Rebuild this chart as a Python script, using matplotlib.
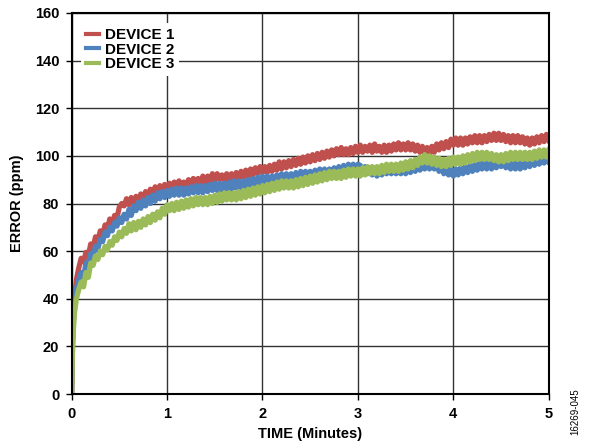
import numpy as np
import matplotlib
matplotlib.use("Agg")
import matplotlib.pyplot as plt

plt.rcParams['font.family'] = ['Liberation Sans', 'DejaVu Sans']

# time samples (minutes)
time_early = [0, 0.005, 0.01, 0.02, 0.03, 0.05, 0.075]
time_main = list(np.round(np.arange(0.1, 5.0001, 0.025), 3))
time = time_early + time_main

device1 = [0, 12, 22, 33, 40, 48, 53,
    57, 55.5, 59.5, 58, 63, 61.5, 66, 64, 68.5, 66.5, 71, 69.5, 73.5, 71, 75, 74, 78.5,
    80, 79, 82, 79.5, 82.5, 80, 83, 80.5, 84, 81.5, 85, 82.5, 86, 83.5, 87, 84.5, 87.5, 84.5, 88, 85.5,
    88.5, 86, 89, 86.5, 89.5, 87, 89, 86.5, 90, 87, 90.5, 87.5, 90.5, 88, 91.5, 88.5, 91.5, 89, 92.5, 89.5,
    92.5, 90, 92, 89.5, 92.5, 90, 92.5, 89.5, 93, 90.5, 93.5, 91, 94, 91, 94.5, 92, 95, 92.5, 95.5, 93,
    95.5, 93, 96, 93.5, 96.5, 94, 97.5, 94.5, 97.5, 95, 98, 95.5, 98.5, 96, 99, 96.5, 99.5, 97, 100, 97.5,
    100.5, 98, 101, 98.5, 101.5, 99, 102, 99.5, 102.5, 100, 103, 100.5, 103.5, 100.5, 103, 100.5, 103.5, 101, 104, 101.5,
    104.5, 101.5, 104, 102, 104.5, 101.5, 105, 102, 104, 101.5, 104.5, 101.5, 104.5, 102, 105, 102.5, 105.5, 102.5, 105, 102.5,
    105.5, 102.5, 105, 102, 104.5, 101.5, 104, 101, 103.5, 100.5, 104, 101.5, 105, 102.5, 105.5, 103, 106, 103.5, 107, 104.5,
    107.5, 104.5, 107.5, 104.5, 107.5, 105, 108, 105.5, 108.5, 105.5, 108.5, 105.5, 108.5, 106, 109, 106.5, 109.5, 106.5, 109.5, 106.5,
    109, 106, 108.5, 105.5, 108.5, 105.5, 108.5, 105.5, 108, 105, 107.5, 104.5, 107.5, 105, 108, 105.5, 108.5, 106, 109, 106.5]

device2 = [0, 14, 24, 32, 38, 44, 48,
    51, 49, 55, 54.5, 59, 58, 62, 61, 65, 64, 68, 66.5, 70, 68.5, 72, 70.5, 74,
    72, 75.5, 73.5, 77.5, 75, 79, 77, 80.5, 78, 81.5, 79, 82.5, 80, 83.5, 81, 84.5, 82, 85, 82.5, 85.5,
    83, 86, 83.5, 86.5, 83.5, 86.5, 83.5, 86.5, 84, 87, 84.5, 87.5, 84.5, 87.5, 84.5, 87.5, 85, 88, 85.5, 88.5,
    85.5, 88.5, 85.5, 88.5, 86, 89, 86, 89.5, 86.5, 89.5, 86.5, 89.5, 87, 90, 87, 90.5, 87.5, 91, 88, 91.5,
    88.5, 91.5, 88.5, 91.5, 89, 92, 89, 92.5, 89.5, 92.5, 89.5, 92.5, 90, 93, 90, 93.5, 90.5, 93.5, 90.5, 93.5,
    90.5, 94, 91, 94.5, 91.5, 94.5, 91.5, 94.5, 91.5, 95, 92, 95.5, 92.5, 96, 93, 96.5, 93.5, 96.5, 93.5, 96.5,
    96, 93, 95.5, 92.5, 95, 92, 94.5, 91.5, 94.5, 92, 95, 92.5, 95.5, 92.5, 95.5, 92.5, 95.5, 92.5, 95.5, 92.5,
    95.5, 93, 96, 93.5, 96.5, 94, 97, 94.5, 97.5, 94.5, 97.5, 94.5, 97, 93.5, 96, 92.5, 95, 92, 94.5, 91.5,
    94.5, 92, 95, 92.5, 95.5, 93, 96, 93.5, 96.5, 94, 97, 94.5, 97.5, 94.5, 97.5, 94.5, 97.5, 95, 98, 95.5,
    98, 95, 97.5, 94.5, 97.5, 94.5, 97.5, 94.5, 97.5, 95, 98, 95.5, 98.5, 96, 99, 96.5, 99.5, 97, 100, 97.5]

device3 = [0, 10, 20, 28, 34, 40, 44,
    47, 45, 51, 49, 55, 54, 58, 56.5, 60, 58.5, 62, 60.5, 64, 62.5, 66, 64.5, 68,
    66, 69.5, 67.5, 71.5, 68.5, 72, 69, 72.5, 70, 73.5, 71, 74.5, 72, 75.5, 73, 76.5, 74, 78, 75.5, 79.5,
    77, 80, 77, 80.5, 77.5, 81, 78, 81.5, 78.5, 82, 79, 82.5, 79.5, 82.5, 79.5, 82.5, 79.5, 83, 80, 83.5,
    80.5, 84, 81, 84.5, 81.5, 84.5, 81.5, 84.5, 81.5, 85, 82, 85.5, 82.5, 86, 83, 86.5, 83.5, 87, 84, 87.5,
    84.5, 88, 85, 88.5, 85.5, 89, 86, 89.5, 86.5, 89.5, 86.5, 89.5, 86.5, 90, 87, 90.5, 87.5, 91, 88, 91.5,
    88.5, 92, 89, 92.5, 89.5, 93, 90, 93.5, 90.5, 93.5, 90.5, 93.5, 90.5, 94, 91, 94.5, 91.5, 94.5, 91.5, 94.5,
    91.5, 95, 92, 95.5, 92.5, 95.5, 92.5, 95.5, 92.5, 96, 93, 96.5, 93.5, 96.5, 93.5, 96.5, 93.5, 97, 94, 97.5,
    94.5, 98, 95, 98.5, 96, 99.5, 97, 100.5, 97, 100, 96.5, 99.5, 96, 99, 95.5, 98.5, 95.5, 99, 96, 99.5,
    96.5, 99.5, 96.5, 100, 97, 100.5, 97.5, 101, 98, 101.5, 98.5, 101.5, 98.5, 101.5, 98.5, 101, 98, 100.5, 97.5, 100.5,
    97.5, 101, 98, 101.5, 98.5, 101.5, 98.5, 101.5, 98.5, 101.5, 98.5, 101.5, 98.5, 102, 99, 102.5, 99.5, 102.5, 99.5, 102.5]

labels = ["DEVICE 1", "DEVICE 2", "DEVICE 3"]
colors = ["#C0504D", "#4F81BD", "#9BBB59"]
x_ticks = [0, 1, 2, 3, 4, 5]
y_ticks = [0, 20, 40, 60, 80, 100, 120, 140, 160]

n = min(len(time), len(device1), len(device2), len(device3))

fig = plt.figure(figsize=(5.92, 4.48), dpi=100)
ax = fig.add_axes([0.121, 0.1205, 0.806, 0.8505])

for ys, lab, c in zip([device1, device2, device3], labels, colors):
    ax.plot(time[:n], ys[:n], color=c, lw=3.8, label=lab)

ax.set_xlim(0, 5)
ax.set_ylim(0, 160)
ax.set_xticks(x_ticks)
ax.set_yticks(y_ticks)
ax.grid(True, color='#333333', lw=1.0)
ax.set_axisbelow(True)
for s in ax.spines.values():
    s.set_linewidth(1.5)
    s.set_color('black')
ax.tick_params(axis='both', length=4, width=1, direction='out', labelsize=10.5, pad=5)
for t in ax.get_xticklabels() + ax.get_yticklabels():
    t.set_fontweight('bold')

ax.set_xlabel("TIME (Minutes)", fontsize=10.5, fontweight='bold', labelpad=5)
ax.set_ylabel("ERROR (ppm)", fontsize=10.5, fontweight='bold', labelpad=8)

leg = ax.legend(loc='upper left', bbox_to_anchor=(0.01, 0.985), frameon=True,
                fancybox=False, framealpha=1, edgecolor='none', facecolor='white',
                prop={'weight': 'bold', 'size': 11}, handlelength=0.85,
                handletextpad=0.45, labelspacing=0.05, borderpad=0.3, borderaxespad=0.3)
for h in leg.get_lines():
    h.set_linewidth(3)

fig.text(0.972, 0.03, "16269-045", rotation=90, fontsize=7, ha='center', va='bottom')

fig.savefig("out.png", dpi=100)
